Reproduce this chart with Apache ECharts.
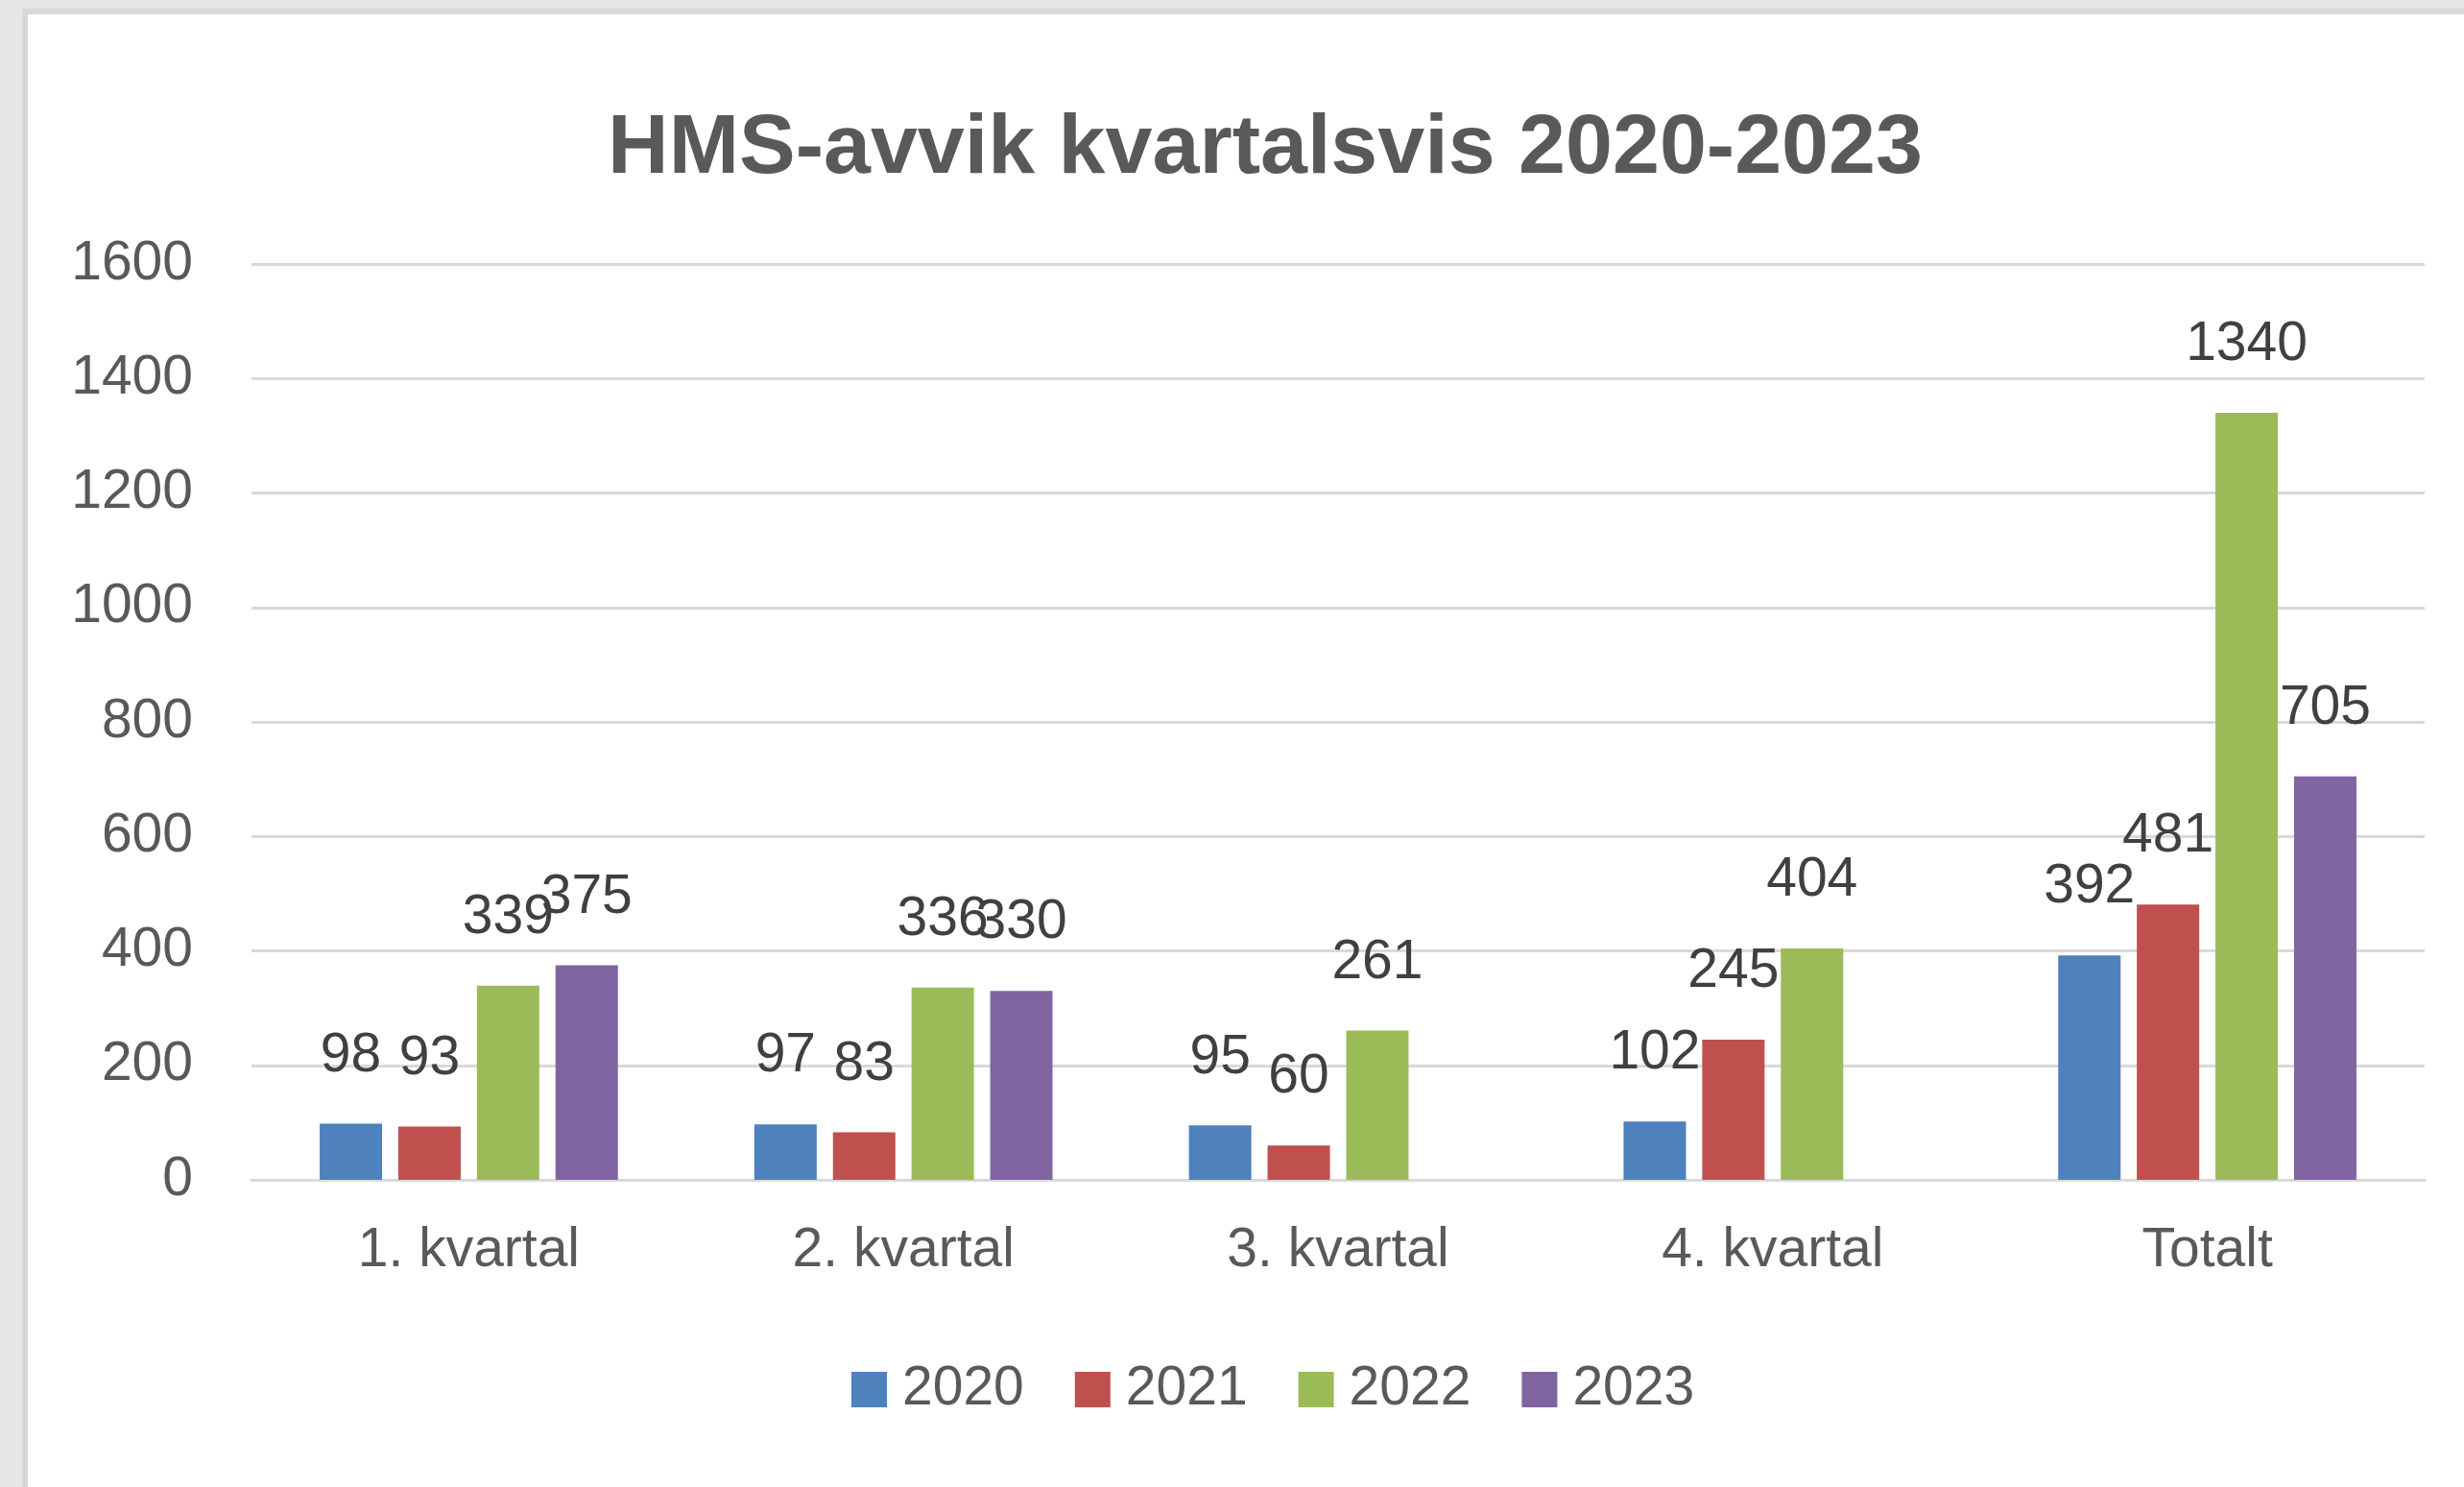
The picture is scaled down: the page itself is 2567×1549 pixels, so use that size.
<!DOCTYPE html>
<html>
<head>
<meta charset="utf-8">
<title>HMS-avvik kvartalsvis 2020-2023</title>
<script src="https://cdn.jsdelivr.net/npm/echarts@6/dist/echarts.min.js"></script>
<style>
html, body { margin: 0; padding: 0; width: 2567px; height: 1549px; overflow: hidden; background: #e6e6e6; }
#frame { position: absolute; left: 23px; top: 9px; right: 0; bottom: 0; background: #ffffff; border-left: 6px solid #d8d8d8; border-top: 6px solid #d8d8d8; }
#chartHms { position: absolute; left: 0; top: 0; width: 2567px; height: 1549px; }
</style>
</head>
<body>
<div id="frame"></div>
<div id="chartHms"></div>
<script>
var categories = ['1. kvartal', '2. kvartal', '3. kvartal', '4. kvartal', 'Totalt'];
var years = ['2020', '2021', '2022', '2023'];
var values2020 = [98, 97, 95, 102, 392];
var values2021 = [93, 83, 60, 245, 481];
var values2022 = [339, 336, 261, 404, 1340];
var values2023 = [375, 330, null, null, 705];
var colors = ['#4f81bd', '#c0504d', '#9bbb59', '#8064a2'];

var fontName = '"Liberation Sans", Arial, sans-serif';

var chartHms = function(){
	var myChart = echarts.init(document.getElementById('chartHms'));
	myChart.clear();

	var seriesValues = [values2020, values2021, values2022, values2023];
	var series = [];
	for (var i = 0; i < years.length; i++) {
		series.push({
			name: years[i],
			type: 'bar',
			barWidth: 65,
			barGap: '26%',
			data: seriesValues[i],
			itemStyle: { color: colors[i] },
			label: {
				show: true,
				position: 'top',
				distance: 42,
				color: '#404040',
				fontSize: 57,
				fontFamily: fontName
			}
		});
	}

	var option = {
		animation: false,
		backgroundColor: 'transparent',
		color: colors,
		title: {
			text: 'HMS-avvik kvartalsvis 2020-2023',
			left: 1313,
			textAlign: 'center',
			top: 107,
			textStyle: {
				color: '#595959',
				fontSize: 88,
				fontWeight: 'bold',
				fontFamily: fontName
			}
		},
		legend: {
			data: years,
			left: 882,
			top: 1414,
			itemWidth: 37,
			itemHeight: 37,
			itemGap: 53,
			icon: 'rect',
			textStyle: {
				color: '#595959',
				fontSize: 57,
				fontFamily: fontName,
				padding: [0, 0, 0, 11]
			}
		},
		grid: {
			left: 262,
			right: 41,
			top: 275,
			bottom: 320,
			containLabel: false
		},
		xAxis: {
			type: 'category',
			data: categories,
			axisLine: { lineStyle: { color: '#d9d9d9', width: 3 } },
			axisTick: { show: false },
			axisLabel: {
				color: '#595959',
				fontSize: 57,
				fontFamily: fontName,
				margin: 46
			}
		},
		yAxis: {
			type: 'value',
			min: 0,
			max: 1600,
			interval: 200,
			axisLine: { show: false },
			axisTick: { show: false },
			splitLine: { lineStyle: { color: '#d9d9d9', width: 3 } },
			axisLabel: {
				color: '#595959',
				fontSize: 57,
				fontFamily: fontName,
				margin: 61,
				formatter: function (value) {
					return String(value);
				}
			}
		},
		series: series
	};
	myChart.setOption(option);
};

chartHms();
</script>
</body>
</html>
